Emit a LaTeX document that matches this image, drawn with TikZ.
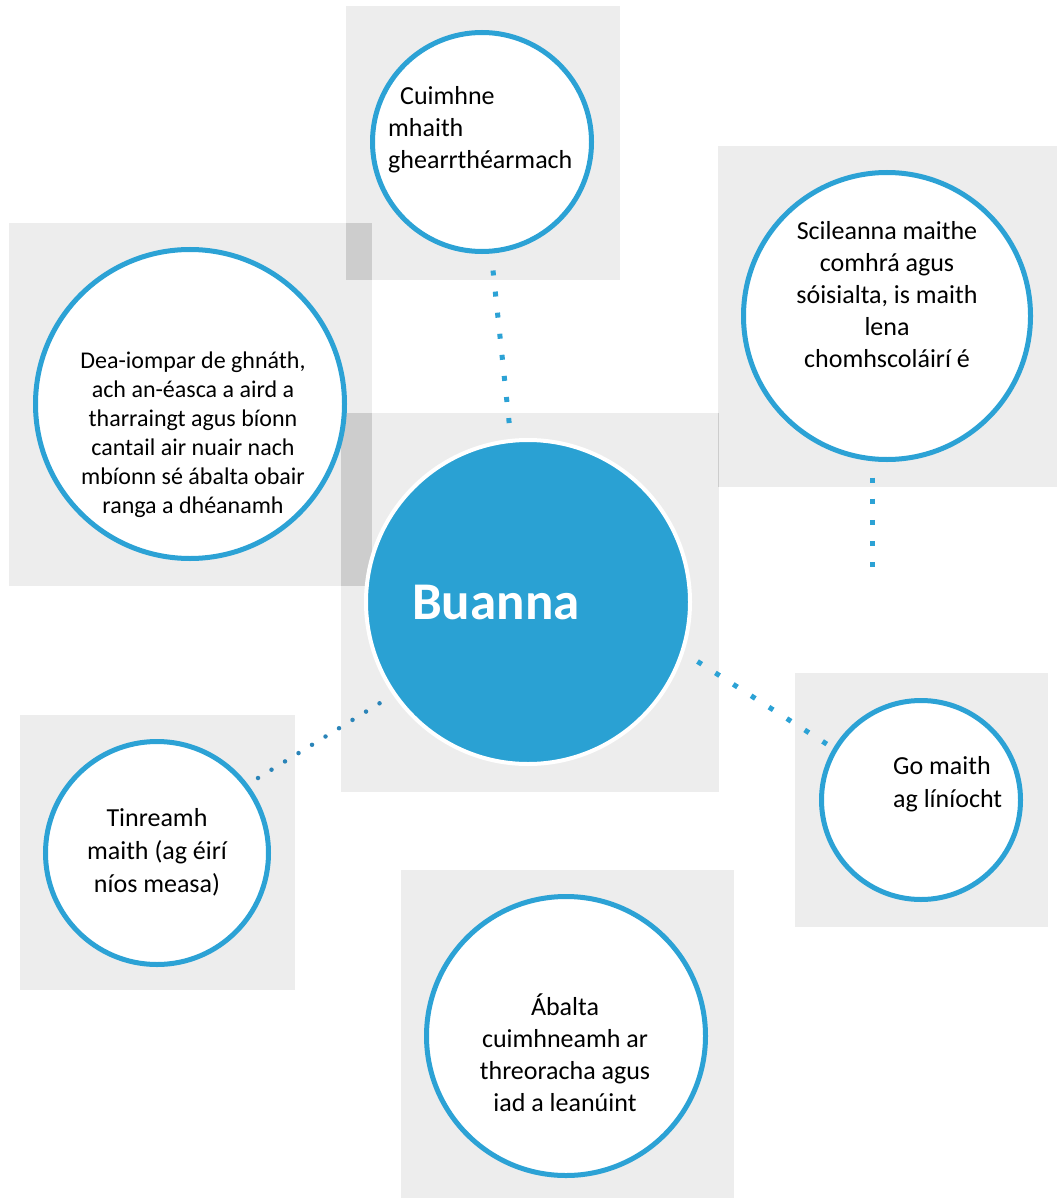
\documentclass[tikz,border=0pt]{standalone}
\usepackage{fontspec}
\setmainfont{Carlito}
\definecolor{ringblue}{HTML}{2CA2D5}
\definecolor{hubblue}{HTML}{2AA1D3}
\definecolor{panelgray}{HTML}{EDEDED}
\definecolor{overlapgray}{HTML}{CDCDCD}
\definecolor{dotdark}{HTML}{2A84B8}
\begin{document}
\begin{tikzpicture}[x=1pt,y=-1pt,
  panel/.style={fill=panelgray,draw=none},
  overlap/.style={fill=overlapgray,draw=none},
  bubble/.style={circle,draw=ringblue,line width=5pt,fill=white,inner sep=0pt,outer sep=0pt},
  hub/.style={circle,draw=white,line width=4pt,fill=hubblue,inner sep=0pt,outer sep=0pt},
  label/.style={inner sep=0pt,text=black,font=\fontsize{26}{32}\selectfont},
  sqdots/.style={draw=ringblue,line width=5pt,line cap=butt,dash pattern=on 5pt off 16.2pt},
  rounddots/.style={draw=dotdark,line width=4.5pt,line cap=round,dash pattern=on 0pt off 15.85pt}
]
\useasboundingbox (0,0) rectangle (1057,1198);
% panels
\fill[panel] (346,6) rectangle (620,280);
\fill[panel] (9,223) rectangle (372,586);
\fill[panel] (718,146) rectangle (1057,487);
\fill[panel] (341,413) rectangle (719,792);
\fill[panel] (20,715) rectangle (295,990);
\fill[panel] (795,673) rectangle (1048,927);
\fill[panel] (401,870) rectangle (734,1198);
% overlaps
\fill[overlap] (346,223) rectangle (372,280);
\fill[overlap] (341,413) rectangle (372,586);
\fill[overlap] (717.5,413) rectangle (719,487);
% connector ends
\coordinate (t1) at (493,270.5);
\coordinate (t2) at (509.5,426);
\coordinate (r1) at (872,477.5);
\coordinate (r2) at (872,568);
\coordinate (d1) at (697.5,661.5);
\coordinate (d2) at (829,745.5);
\coordinate (l1) at (258,778);
\coordinate (l2) at (393,695);
\draw[sqdots] (t1) -- (t2);
\draw[sqdots] (r1) -- (r2);
\draw[sqdots] (d1) -- (d2);
\draw[rounddots] (l1) -- (l2);
% bubbles
\node[bubble,minimum size=219pt] (top) at (482,142) {};
\node[bubble,minimum size=309pt] (left) at (190,404) {};
\node[bubble,minimum size=287pt] (rtop) at (887,316) {};
\node[bubble,minimum size=223pt] (bleft) at (157,853) {};
\node[bubble,minimum size=199pt] (rbot) at (921,800) {};
\node[bubble,minimum size=279pt] (bot) at (566,1036) {};
\node[hub,minimum size=324pt] (hub) at (528,602) {};
% texts
\node[label,align=left,anchor=west] (toptext) at (388,130) {\hspace{12pt}Cuimhne\\mhaith\\ghearrthéarmach};
\node[label,align=center,font=\fontsize{24}{29}\selectfont] (lefttext) at (193,435) {Dea-iompar de ghnáth,\\ach an-éasca a aird a\\tharraingt agus bíonn\\cantail air nuair nach\\mbíonn sé ábalta obair\\ranga a dhéanamh};
\node[label,align=center] (rtoptext) at (887,295) {Scileanna maithe\\comhrá agus\\sóisialta, is maith\\lena\\chomhscoláirí é};
\node[label,align=center,font=\fontsize{26}{33}\selectfont] (blefttext) at (157,852) {Tinreamh\\maith (ag éirí\\níos measa)};
\node[label,align=left,anchor=west,font=\fontsize{26}{33}\selectfont] (rbottext) at (893,784) {Go maith\\ag líníocht};
\node[label,align=center] (bottext) at (565,1053) {Ábalta\\cuimhneamh ar\\threoracha agus\\iad a leanúint};
\node[inner sep=0pt,anchor=west,text=white,font=\bfseries\fontsize{53}{60}\selectfont] (hubtext) at (412,603) {Buanna};
\end{tikzpicture}
\end{document}
